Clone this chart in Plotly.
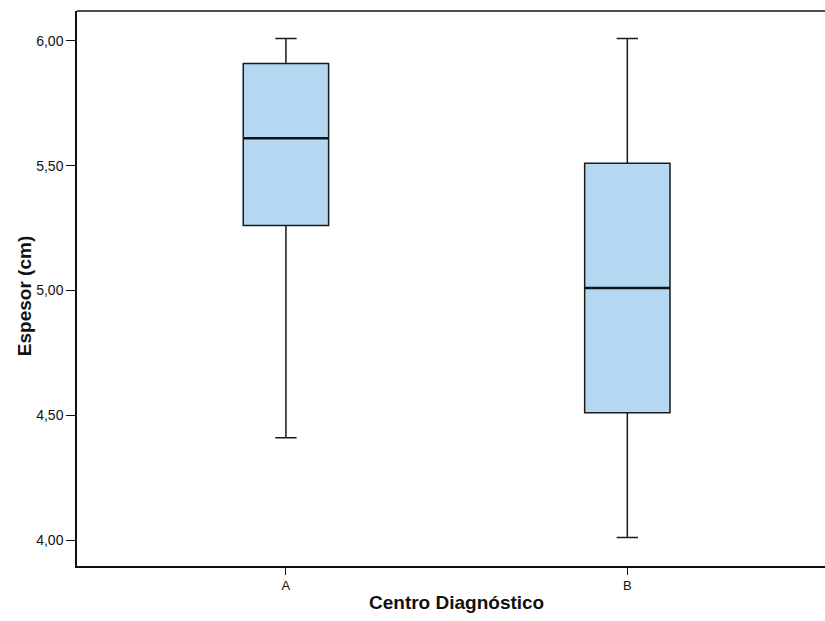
import plotly.graph_objects as go

# Summary statistics per diagnostic centre (Espesor, cm)
centros = ["A", "B"]
minimo = [4.41, 4.01]
q1 = [5.26, 4.51]
mediana = [5.61, 5.01]
q3 = [5.91, 5.51]
maximo = [6.01, 6.01]

y_ticks = [4.0, 4.5, 5.0, 5.5, 6.0]
y_tick_text = ["4,00", "4,50", "5,00", "5,50", "6,00"]

pos = list(range(len(centros)))
box_w = 0.25
font = "Liberation Sans, Arial, sans-serif"

fig = go.Figure()
fig.add_trace(go.Box(
    x=pos, q1=q1, median=mediana, q3=q3,
    lowerfence=minimo, upperfence=maximo,
    width=box_w, whiskerwidth=0.25,
    fillcolor="#B5D8F2",
    line=dict(color="#1a1a1a", width=1.5),
    boxpoints=False, showlegend=False, hoverinfo="skip",
))

# Heavier median bars
for i, m in zip(pos, mediana):
    fig.add_trace(go.Scatter(
        x=[i - box_w / 2, i + box_w / 2], y=[m, m], mode="lines",
        line=dict(color="#111111", width=2.6),
        showlegend=False, hoverinfo="skip",
    ))

fig.update_layout(
    width=825, height=621,
    margin=dict(l=77, r=0, t=11, b=55),
    plot_bgcolor="white", paper_bgcolor="white",
    font=dict(family=font, color="#111111"),
    xaxis=dict(
        range=[-0.612, 1.579], tickmode="array", tickvals=pos, ticktext=centros,
        showgrid=False, zeroline=False, showline=True, linecolor="#111111", linewidth=1.5,
        ticks="outside", ticklen=7, tickwidth=1.2, tickcolor="#111111",
        tickfont=dict(size=13, family=font), fixedrange=True,
    ),
    yaxis=dict(
        range=[3.896, 6.12], tickmode="array", tickvals=y_ticks, ticktext=y_tick_text,
        showgrid=False, zeroline=False, showline=True, linecolor="#111111", linewidth=1.5,
        ticks="outside", ticklen=9, tickwidth=1.2, tickcolor="#111111",
        tickfont=dict(size=14, family=font),
    ),
    shapes=[dict(type="line", xref="paper", yref="paper", x0=0, x1=1, y0=1, y1=1,
                 line=dict(color="#111111", width=1.5))],
    annotations=[
        dict(text="<b>Centro Diagnóstico</b>", x=0.5, xref="x",
             y=-0.065, yref="paper", yanchor="middle", showarrow=False,
             font=dict(size=19, family=font)),
        dict(text="<b>Espesor (cm)</b>", x=-0.071, xref="paper", xanchor="center",
             y=0.486, yref="paper", yanchor="middle", textangle=-90, showarrow=False,
             font=dict(size=19, family=font)),
    ],
)

fig.write_html("out.html")
